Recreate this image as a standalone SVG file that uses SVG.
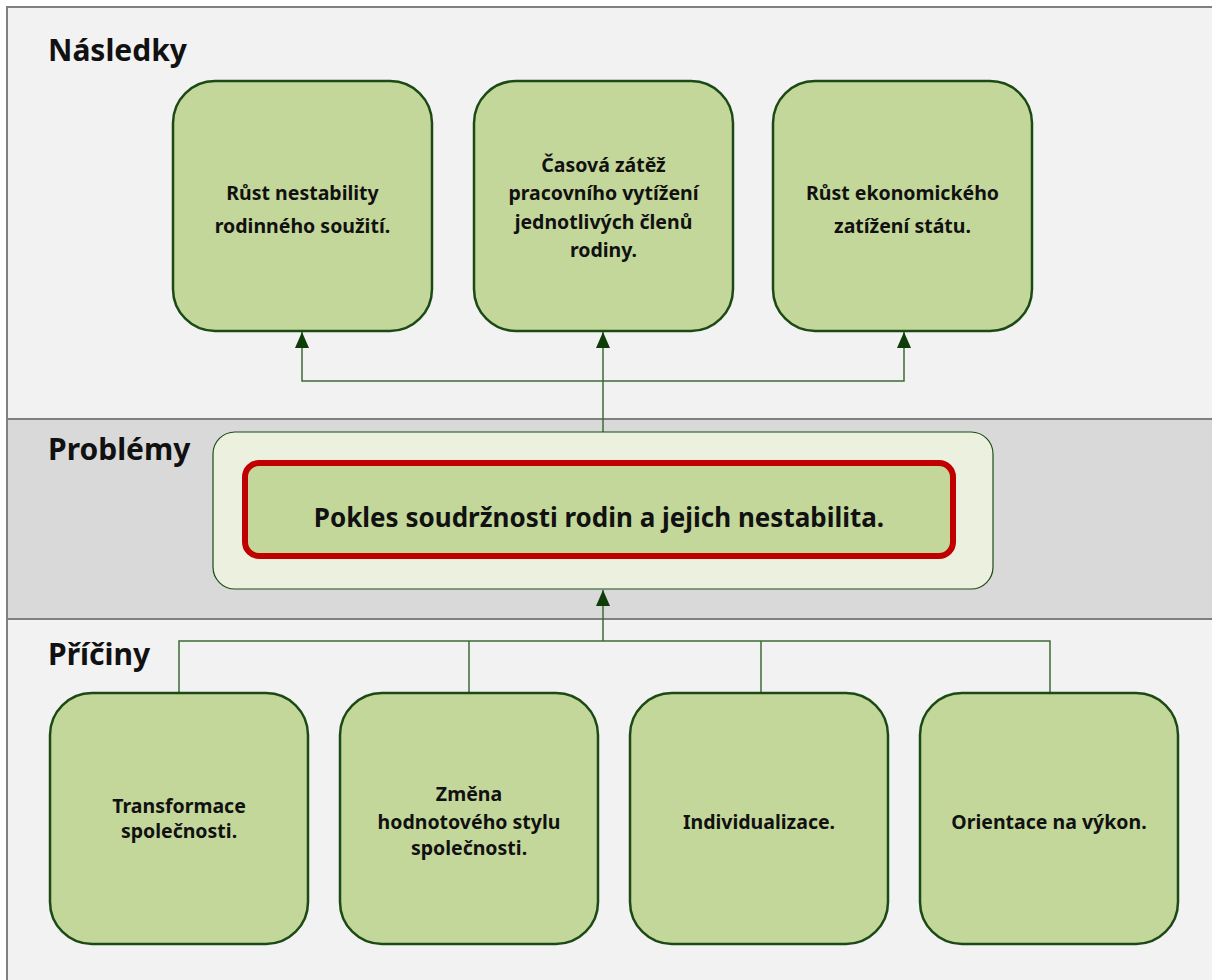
<svg xmlns="http://www.w3.org/2000/svg" width="1212" height="980" viewBox="0 0 1212 980">
  <defs>
    <style>
      .box { fill: #c4d79b; stroke: #1b4a14; stroke-width: 2.5; }
      .lbl { font-family: "Noto Sans", "Open Sans", sans-serif; font-weight: bold; font-size: 19.5px; fill: #111; text-anchor: middle; }
      .sec { font-family: "Noto Sans", "Open Sans", sans-serif; font-weight: bold; font-size: 30px; fill: #111; }
      .wire { fill: none; stroke: #3d6b35; stroke-width: 1.5; }
    </style>
    <marker id="arr" viewBox="0 0 16 14" markerWidth="16" markerHeight="14" refX="16" refY="7" orient="auto-start-reverse" markerUnits="userSpaceOnUse">
      <path d="M0,0 L16,7 L0,14 Z" fill="#0f3d0a"/>
    </marker>
  </defs>

  <!-- page frame and section bands -->
  <rect x="0" y="0" width="1212" height="980" fill="#ffffff"/>
  <rect x="7" y="7" width="1215" height="985" fill="#f2f2f2" stroke="#808080" stroke-width="2"/>
  <rect x="8" y="419" width="1210" height="200" fill="#d9d9d9"/>
  <line x1="8" y1="419" x2="1212" y2="419" stroke="#808080" stroke-width="2"/>
  <line x1="8" y1="619" x2="1212" y2="619" stroke="#808080" stroke-width="2"/>

  <!-- section headings -->
  <text class="sec" x="48" y="61">Následky</text>
  <text class="sec" x="48" y="460">Problémy</text>
  <text class="sec" x="48" y="665">Příčiny</text>

  <!-- connectors -->
  <g id="connectors">
    <line class="wire" x1="603" y1="432" x2="603" y2="332" marker-end="url(#arr)"/>
    <polyline class="wire" points="302,332 302,381 904,381 904,332" marker-start="url(#arr)" marker-end="url(#arr)"/>
    <line class="wire" x1="603" y1="641" x2="603" y2="590" marker-end="url(#arr)"/>
    <polyline class="wire" points="179,693 179,641 1050,641 1050,693"/>
    <line class="wire" x1="469" y1="641" x2="469" y2="693"/>
    <line class="wire" x1="761" y1="641" x2="761" y2="693"/>
  </g>

  <!-- consequences -->
  <g id="n-dusledek1">
    <rect class="box" x="173" y="81" width="259" height="250" rx="42"/>
    <text class="lbl" x="302.5" y="200">Růst nestability</text>
    <text class="lbl" x="302.5" y="233">rodinného soužití.</text>
  </g>
  <g id="n-dusledek2">
    <rect class="box" x="474" y="81" width="259" height="250" rx="42"/>
    <text class="lbl" x="603.5" y="172">Časová zátěž</text>
    <text class="lbl" x="603.5" y="200">pracovního vytížení</text>
    <text class="lbl" x="603.5" y="229">jednotlivých členů</text>
    <text class="lbl" x="603.5" y="257">rodiny.</text>
  </g>
  <g id="n-dusledek3">
    <rect class="box" x="773" y="81" width="259" height="250" rx="42"/>
    <text class="lbl" x="902.5" y="200">Růst ekonomického</text>
    <text class="lbl" x="902.5" y="233">zatížení státu.</text>
  </g>

  <!-- core problem -->
  <g id="n-problem">
    <rect x="213" y="432" width="780" height="157" rx="22" fill="#ebf1de" stroke="#1b4a14" stroke-width="1.2"/>
    <rect x="245" y="463" width="708" height="93" rx="14" fill="#c4d79b" stroke="#c00000" stroke-width="6"/>
    <text x="599" y="527" font-family="Noto Sans, Open Sans, sans-serif" font-weight="bold" font-size="26px" fill="#111" text-anchor="middle">Pokles soudržnosti rodin a jejich nestabilita.</text>
  </g>

  <!-- causes -->
  <g id="n-pricina1">
    <rect class="box" x="50" y="693" width="258" height="251" rx="42"/>
    <text class="lbl" x="179" y="813">Transformace</text>
    <text class="lbl" x="179" y="838">společnosti.</text>
  </g>
  <g id="n-pricina2">
    <rect class="box" x="340" y="693" width="258" height="251" rx="42"/>
    <text class="lbl" x="469" y="801">Změna</text>
    <text class="lbl" x="469" y="829">hodnotového stylu</text>
    <text class="lbl" x="469" y="855">společnosti.</text>
  </g>
  <g id="n-pricina3">
    <rect class="box" x="630" y="693" width="258" height="251" rx="42"/>
    <text class="lbl" x="759" y="829">Individualizace.</text>
  </g>
  <g id="n-pricina4">
    <rect class="box" x="920" y="693" width="258" height="251" rx="42"/>
    <text class="lbl" x="1049" y="829">Orientace na výkon.</text>
  </g>
</svg>
